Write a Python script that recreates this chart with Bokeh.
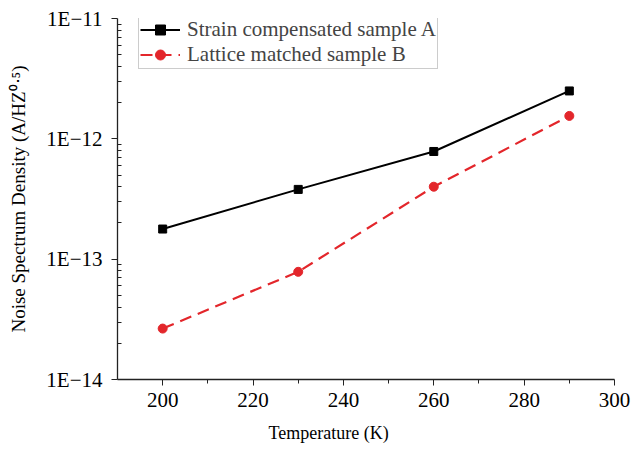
from bokeh.plotting import figure
from bokeh.models import FixedTicker, Legend, LegendItem, Range1d, Title
from bokeh.embed import file_html
from bokeh.resources import INLINE

temps = [200, 230, 260, 290]
sample_a = [1.78e-13, 3.8e-13, 7.85e-13, 2.5e-12]
sample_b = [2.65e-14, 7.85e-14, 4.0e-13, 1.55e-12]
label_a = "Strain compensated sample A"
label_b = "Lattice matched sample B"
x_ticks = [200, 220, 240, 260, 280, 300]
y_ticks = [1e-14, 1e-13, 1e-12, 1e-11]
y_tick_labels = ["1E\u221214", "1E\u221213", "1E\u221212", "1E\u221211"]
x_title = "Temperature (K)"
y_title = "Noise Spectrum Density (A/HZ\u2070\u22c5\u2075)"

FONT = "Liberation Serif"

p = figure(width=642, height=453, output_backend="svg", toolbar_location=None,
           y_axis_type="log", x_range=Range1d(190, 300), y_range=Range1d(1e-14, 1e-11),
           min_border_left=117, min_border_right=28, min_border_top=18, min_border_bottom=73)
p.outline_line_color = None
p.xgrid.visible = False
p.ygrid.visible = False
p.background_fill_color = "white"
p.border_fill_color = "white"

la = p.line(temps, sample_a, line_color="black", line_width=2)
sa = p.scatter(temps, sample_a, marker="square", size=8, color="black")
lb = p.line(temps, sample_b, line_color="#e3262b", line_width=2.2, line_dash="12 7")
sb = p.scatter(temps, sample_b, marker="circle", size=9, color="#e3262b")

# axes
p.xaxis.ticker = FixedTicker(ticks=x_ticks, minor_ticks=[210, 230, 250, 270, 290])
minors = []
for d in [1e-14, 1e-13, 1e-12]:
    for k in range(2, 10):
        minors.append(d * k)
p.yaxis.ticker = FixedTicker(ticks=y_ticks, minor_ticks=minors)
p.yaxis.major_label_overrides = {t: l for t, l in zip(y_ticks, y_tick_labels)}

for ax in [p.xaxis[0], p.yaxis[0]]:
    ax.axis_line_color = "#222222"
    ax.axis_line_width = 1.3
    ax.major_tick_line_color = "#222222"
    ax.minor_tick_line_color = "#222222"
    ax.major_label_text_font = FONT
    ax.major_label_text_font_size = "21px"
    ax.major_label_text_color = "black"
    ax.axis_label_text_font = FONT
    ax.axis_label_text_font_size = "19px"
    ax.axis_label_text_font_style = "normal"
    ax.axis_label_text_color = "black"

p.xaxis.major_tick_out = 6
p.xaxis.major_tick_in = 0
p.xaxis.minor_tick_out = 4
p.xaxis.minor_tick_in = 0
p.xaxis.major_label_standoff = 7

p.yaxis.major_tick_out = 6
p.yaxis.major_tick_in = 0
p.yaxis.minor_tick_out = 0
p.yaxis.minor_tick_in = 4
p.yaxis.major_label_standoff = 9
p.yaxis.axis_label = y_title
p.yaxis.axis_label_standoff = 14

xt = Title(text=x_title, align="left", offset=151, text_font=FONT,
           text_font_size="18px", text_font_style="normal", text_color="black",
           standoff=22)
p.add_layout(xt, "below")

legend = Legend(items=[LegendItem(label=label_a, renderers=[la, sa]),
                       LegendItem(label=label_b, renderers=[lb, sb])],
                location=(21, 310))
legend.label_text_font = FONT
legend.label_text_font_size = "21px"
legend.border_line_color = "#999999"
legend.border_line_width = 1
legend.glyph_width = 40
legend.glyph_height = 25
legend.label_height = 25
legend.spacing = 0
legend.padding = 1
legend.margin = 0
legend.label_standoff = 7
p.add_layout(legend)

open("out.html", "w").write(file_html(p, INLINE))
